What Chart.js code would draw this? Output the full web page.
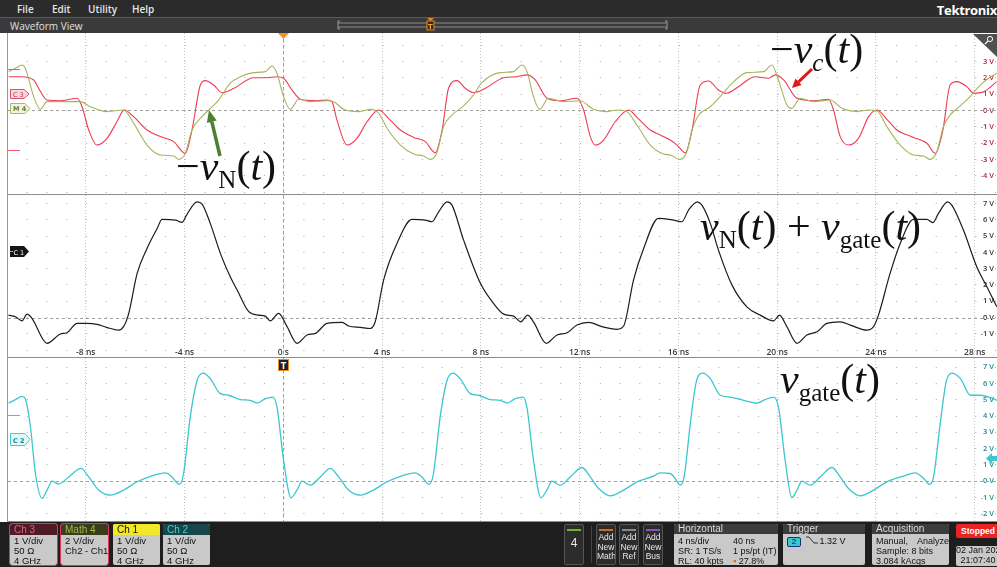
<!DOCTYPE html>
<html>
<head>
<meta charset="utf-8">
<script src="https://cdn.jsdelivr.net/npm/chart.js@4.4.1/dist/chart.umd.min.js"></script>
<style>
body{margin:0;width:997px;height:567px;overflow:hidden;background:#fff;position:relative;font-family:"Open Sans",sans-serif}
.abs{position:absolute}
#menu{left:0;top:0;width:997px;height:17px;background:#2b2b2b}
#menu span{position:absolute;top:2px;font-size:10px;font-weight:600;color:#e6e6e6}
#logo{position:absolute;right:0;top:1px;font-size:13px;font-weight:700;color:#fff;letter-spacing:-0.3px}
#wv{left:0;top:17px;width:997px;height:16px;background:#3a3a3a;border-top:1px solid #5a5a5a;box-sizing:border-box}
#wv span{position:absolute;left:10px;top:1px;font-size:10px;color:#e0e0e0}
canvas{position:absolute;left:8px}
.sep{position:absolute;left:7px;width:990px;height:1px;background:#8c8c8c}
.ann{position:absolute;font-family:"Liberation Serif",serif;font-size:42px;line-height:1;color:#111;white-space:nowrap}
.ann sub{font-size:25px;vertical-align:-8px;line-height:0}
#status{left:0;top:522px;width:997px;height:45px;background:#1e1e1e;font-family:"Liberation Sans",sans-serif}
.ch{position:absolute;top:2px;width:47px;height:41px;background:#c9c9c9;border-radius:2px;overflow:hidden;font-size:9.5px;color:#111;white-space:nowrap}
.ch .hd{height:11px;line-height:11px;padding-left:4px;font-size:10px}
.ch .bd{padding:1px 0 0 4px;line-height:10px}
.ch.sel{outline:1.5px solid #e0365a}
.btn{position:absolute;top:2px;width:20px;height:41px;background:#2c2c2c;border:1px solid #555;border-radius:2px;box-sizing:border-box;color:#e8e8e8;font-size:8.5px;line-height:9.5px;text-align:center;white-space:nowrap;overflow:hidden}
.btn i{display:block;height:2px;margin:4px 2px 2px 2px}
.panel{position:absolute;top:2px;height:41px;background:#c9c9c9;border-radius:2px;overflow:hidden;font-size:9px;color:#111;white-space:nowrap}
.panel .hd{height:10px;line-height:10px;background:#3c3c3c;color:#ddd;padding-left:4px;font-size:10px}
.panel .bd{padding:2px 0 0 4px;line-height:10px;position:relative}
</style>
</head>
<body>
<div id="menu" class="abs">
  <span style="left:17px">File</span><span style="left:52px">Edit</span><span style="left:88px">Utility</span><span style="left:132px">Help</span>
  <div id="logo">Tektronix</div>
</div>
<div id="wv" class="abs"><span>Waveform View</span></div>

<canvas id="topPanel" width="989" height="161" style="top:33px"></canvas>
<canvas id="midPanel" width="989" height="162" style="top:195px"></canvas>
<canvas id="botPanel" width="989" height="163" style="top:358px"></canvas>
<div class="sep" style="top:194px"></div>
<div class="sep" style="top:357px"></div>
<div class="sep" style="top:521px"></div>
<div class="abs" style="left:7px;top:33px;width:1px;height:489px;background:#9a9a9a"></div>

<svg class="abs" style="left:0;top:0" width="997" height="567">
  <!-- slider in waveform view bar -->
  <line x1="338" y1="23" x2="667" y2="23" stroke="#8a8a8a"/>
  <line x1="338" y1="27" x2="667" y2="27" stroke="#8a8a8a"/>
  <path d="M340 21 h-2 v8 h2 M665 21 h2 v8 h-2" stroke="#9a9a9a" fill="none"/>
  <rect x="427" y="21" width="7" height="9" fill="#2a2a2a" stroke="#f08a20"/>
  <text x="430.5" y="28.5" font-family="DejaVu Sans" font-size="7" font-weight="bold" fill="#f0a040" text-anchor="middle">T</text>
  <polygon points="427,18 434,18 430.5,21" fill="#f08a20"/>
  <!-- trigger position marker -->
  <polygon points="278,33 289,33 283.5,39" fill="#f39020"/>
  <!-- zoom icon -->
  <polygon points="973,34 997,34 997,57" fill="#505050"/>
  <circle cx="990" cy="39" r="2.6" stroke="#fff" stroke-width="1" fill="none"/>
  <line x1="988" y1="41" x2="985" y2="44" stroke="#fff" stroke-width="1.2"/>
  <!-- channel tags -->
  <line x1="8" y1="69.5" x2="20" y2="69.5" stroke="#ee5a70"/>
  <line x1="8" y1="150.5" x2="20" y2="150.5" stroke="#ee5a70"/>
  <polygon points="10.5,89.5 24,89.5 29,94 24,98.5 10.5,98.5" fill="#fcd6dd" stroke="#e0506a"/>
  <text x="13" y="96.5" font-family="DejaVu Sans" font-size="6.5" fill="#c03048">C 3</text>
  <polygon points="10.5,103.5 25,103.5 30,108.5 25,113.5 10.5,113.5" fill="#f1f3de" stroke="#a8b868"/>
  <text x="13" y="111" font-family="DejaVu Sans" font-size="6.5" font-weight="bold" fill="#6b7a30">M 4</text>
  <polygon points="10,246 24,246 29,251.5 24,257 10,257" fill="#151515"/>
  <line x1="10" y1="251.5" x2="13" y2="251.5" stroke="#e8d820" stroke-width="0.8"/>
  <text x="13.5" y="254.5" font-family="DejaVu Sans" font-size="6.5" fill="#fff">C 1</text>
  <line x1="8" y1="415.5" x2="20" y2="415.5" stroke="#3cc6cf"/>
  <polygon points="10.5,433.5 25,433.5 30,439.5 25,445.5 10.5,445.5" fill="#e0f8fa" stroke="#48c8d0"/>
  <text x="13" y="442.5" font-family="DejaVu Sans" font-size="6.5" font-weight="bold" fill="#1a8890">C 2</text>
  <!-- T marker in lower panel -->
  <rect x="278.5" y="359.5" width="10" height="11" fill="#222" stroke="#f08a20"/>
  <text x="283.5" y="368.5" font-family="DejaVu Sans" font-size="8" font-weight="bold" fill="#fff" text-anchor="middle">T</text>
  <!-- trigger level arrow -->
  <polygon points="986,458.5 992,453 992,456 997,456 997,461 992,461 992,464" fill="#3cc6cf"/>
  <!-- annotation arrows -->
  <line x1="812" y1="69" x2="798.5" y2="81.8" stroke="#e01818" stroke-width="3"/>
  <polygon points="792,88 801.6,85.1 795.4,78.5" fill="#e01818"/>
  <line x1="220" y1="156" x2="211.8" y2="121.7" stroke="#4d7f2e" stroke-width="3.5"/>
  <polygon points="209,110 216.7,120.5 206.9,122.9" fill="#4d7f2e"/>
</svg>

<div class="ann" style="left:770px;top:28px">−<i>v</i><sub><i>c</i></sub>(<i>t</i>)</div>
<div class="ann" style="left:176px;top:145px">−<i>v</i><sub>N</sub>(<i>t</i>)</div>
<div class="ann" style="left:700px;top:205px"><i>v</i><sub>N</sub>(<i>t</i>) + <i>v</i><sub>gate</sub>(<i>t</i>)</div>
<div class="ann" style="left:780px;top:358px"><i>v</i><sub>gate</sub>(<i>t</i>)</div>

<div id="status" class="abs">
  <div class="ch sel" style="left:10px"><div class="hd" style="background:#4d1b26;color:#e8607a">Ch 3</div><div class="bd">1 V/div<br>50 Ω<br>4 GHz</div></div>
  <div class="ch sel" style="left:61px"><div class="hd" style="background:#3b3d1a;color:#a8b850">Math 4</div><div class="bd">2 V/div<br>Ch2 - Ch1</div></div>
  <div class="ch" style="left:113px"><div class="hd" style="background:#f2e82a;color:#111">Ch 1</div><div class="bd">1 V/div<br>50 Ω<br>4 GHz</div></div>
  <div class="ch" style="left:163px"><div class="hd" style="background:#17474a;color:#48ccd0">Ch 2</div><div class="bd">1 V/div<br>50 Ω<br>4 GHz</div></div>

  <div class="btn" style="left:564px"><i style="background:#7ab030"></i><div style="font-size:12px;margin-top:8px">4</div></div>
  <div class="abs" style="left:591px;top:4px;width:1px;height:37px;background:#444"></div>
  <div class="btn" style="left:596px"><i style="background:#c87028"></i>Add<br>New<br>Math</div>
  <div class="btn" style="left:619px"><i style="background:#8a8a8a"></i>Add<br>New<br>Ref</div>
  <div class="btn" style="left:643px"><i style="background:#8c50c0"></i>Add<br>New<br>Bus</div>

  <div class="panel" style="left:674px;width:104px"><div class="hd">Horizontal</div>
    <div class="bd">4 ns/div<br>SR: 1 TS/s<br>RL: 40 kpts
      <div class="abs" style="left:59px;top:2px">40 ns<br>1 ps/pt (IT)<br><span style="color:#d07010">▪</span> 27.8%</div>
    </div></div>
  <div class="panel" style="left:783px;width:82px"><div class="hd">Trigger</div>
    <div class="bd"><span style="display:inline-block;background:#3cc6cf;border:1px solid #137;border-radius:2px;width:12px;height:8px;line-height:8px;text-align:center;font-size:8px">2</span>
      <svg width="12" height="9" style="vertical-align:-1px;margin:0 2px"><path d="M0 1 H3 L8 7 H12" stroke="#333" fill="none"/></svg>1.32 V</div></div>
  <div class="panel" style="left:872px;width:77px"><div class="hd">Acquisition</div>
    <div class="bd">Manual,<span class="abs" style="left:45px;top:2px">Analyze</span><br>Sample: 8 bits<br>3.084 kAcqs</div></div>
  <div class="abs" style="left:956px;top:2px;width:44px;height:14px;background:#e82424;border-radius:2px;color:#fff;font-size:8.5px;font-weight:700;text-align:center;line-height:14px">Stopped</div>
  <div class="abs" style="left:956px;top:24px;width:44px;height:20px;background:#c9c9c9;border-radius:2px;color:#111;font-size:9px;line-height:9.5px;text-align:center;white-space:nowrap;overflow:hidden">02 Jan 2020<br>21:07:40</div>
</div>

<script>
// time axis (ns)
const T_MIN = -11.15, T_MAX = 28.9;
const timeTicks = [-8, -4, 0, 4, 8, 12, 16, 20, 24, 28];
const timeTickLabels = ['-8 ns', '-4 ns', '0 s', '4 ns', '8 ns', '12 ns', '16 ns', '20 ns', '24 ns', '28 ns'];

// volt labels shown on each panel
const topVoltLabels = [3, 2, 1, 0, -1, -2, -3, -4];
const midVoltLabels = [7, 6, 5, 4, 3, 2, 1, 0, -1];
const botVoltLabels = [7, 6, 5, 4, 3, 2, 1, 0, -1, -2];

// Ch 3  (-vc)
const c3Time = [-11.12, -10.63, -10.11, -9.91, -9.57, -9.03, -8.35, -8.15, -7.88, -7.55, -7.14, -6.74, -6.44, -6.06, -5.52, -4.98, -4.44, -3.97, -3.7, -3.36, -3.16, -2.82, -2.48, -2.0, -1.2, -0.66, -0.26, 0.01, 0.35, 0.69, 1.36, 1.77, 1.97, 2.17, 2.58, 2.98, 3.39, 3.86, 4.26, 4.74, 5.28, 5.75, 6.15, 6.43, 6.69, 7.03, 7.37, 7.7, 8.18, 8.92, 9.46, 9.87, 10.2, 10.68, 11.21, 11.89, 12.16, 12.43, 12.63, 12.97, 13.44, 13.98, 14.32, 14.86, 15.26, 15.67, 15.94, 16.28, 16.55, 16.88, 17.22, 17.62, 17.96, 18.43, 19.11, 19.65, 19.92, 20.26, 20.8, 21.47, 22.08, 22.28, 22.55, 22.89, 23.29, 23.7, 24.04, 24.44, 24.85, 25.52, 26.06, 26.4, 26.71, 27.0, 27.27, 27.68, 27.95, 28.36, 28.89];
const c3Volt = [2.07, 2.07, 1.87, 1.36, 0.64, 0.6, 0.75, 0.23, -1.2, -2.12, -1.71, -0.69, 0.03, -0.38, -1.2, -1.6, -1.91, -2.63, -1.2, 1.56, 1.83, 1.56, 1.09, 1.36, 2.01, 2.01, 2.07, 1.98, 1.26, 0.69, 0.6, 0.64, 0.54, -0.58, -2.12, -1.71, -0.69, 0.03, -0.48, -1.2, -1.65, -1.91, -2.59, -1.2, 1.36, 1.83, 1.36, 1.09, 1.36, 2.01, 2.07, 2.18, 1.87, 0.75, 0.6, 0.75, 0.03, -1.6, -2.12, -1.81, -0.69, 0.03, -0.42, -1.2, -1.5, -1.81, -2.12, -2.59, -1.2, 1.56, 1.81, 1.26, 1.06, 1.46, 2.07, 1.98, 2.18, 1.87, 0.75, 0.6, 0.69, 0.03, -1.6, -2.12, -1.71, -0.38, 0.03, -0.54, -1.2, -1.65, -2.01, -2.63, -1.2, 1.56, 1.77, 1.46, 1.06, 1.15, 1.77];

// Math 4  (-vN), in screen volts
const m4Time = [-11.12, -10.85, -10.58, -10.45, -10.11, -9.84, -9.57, -9.03, -8.22, -7.81, -7.14, -6.47, -6.06, -5.52, -4.98, -4.44, -4.24, -3.97, -3.7, -3.36, -3.02, -2.62, -2.15, -1.74, -1.2, -0.73, -0.46, -0.26, 0.01, 0.28, 0.62, 1.09, 1.77, 2.04, 2.44, 3.05, 3.52, 3.86, 4.2, 4.74, 5.28, 5.68, 5.95, 6.22, 6.49, 6.83, 7.3, 7.7, 8.04, 8.79, 9.32, 9.66, 9.87, 10.13, 10.38, 10.74, 11.35, 12.02, 12.56, 13.1, 13.57, 13.91, 14.32, 14.86, 15.4, 15.67, 16.07, 16.34, 16.55, 16.82, 17.29, 17.69, 18.1, 18.77, 19.45, 19.78, 20.05, 20.39, 20.59, 20.93, 21.47, 22.15, 22.62, 23.23, 23.7, 24.04, 24.44, 24.98, 25.52, 25.93, 26.19, 26.46, 26.73, 27.0, 27.41, 27.81, 28.22, 28.56, 28.89];
const m4Volt = [2.38, 2.59, 2.79, 2.59, 0.85, 0.07, 0.54, 0.54, 0.54, 0.23, -0.07, 0.03, -0.79, -2.12, -2.73, -2.79, -3.0, -2.63, -1.2, -0.48, 0.03, 0.64, 1.67, 2.07, 2.32, 2.38, 2.73, 2.28, 0.85, 0.07, 0.69, 0.54, 0.6, 0.54, 0.07, -0.07, 0.07, -0.17, -1.09, -2.12, -2.67, -2.79, -3.0, -2.59, -0.99, -0.28, 0.28, 0.95, 1.71, 2.32, 2.38, 2.79, 2.38, 0.85, 0.07, 0.75, 0.54, 0.6, 0.07, -0.07, 0.03, -0.07, -0.89, -2.12, -2.67, -2.73, -3.0, -2.53, -1.2, -0.28, 0.23, 0.85, 1.56, 2.32, 2.38, 2.79, 1.87, 0.34, 0.13, 0.75, 0.54, 0.64, 0.13, -0.07, 0.03, -0.03, -0.99, -2.12, -2.73, -2.79, -3.0, -2.53, -0.99, -0.28, 0.28, 0.85, 1.56, 1.98, 2.28];

// Ch 1  (vN + vgate)
const c1Time = [-11.13, -10.85, -10.58, -10.38, -10.18, -9.57, -9.03, -8.76, -8.35, -7.95, -7.55, -7.16, -6.67, -6.47, -6.26, -5.92, -5.52, -5.11, -4.91, -4.37, -4.1, -3.92, -3.49, -3.29, -2.96, -2.55, -2.15, -1.87, -1.4, -1.0, -0.73, -0.53, -0.19, 0.15, 0.55, 0.96, 1.3, 1.77, 2.38, 2.64, 3.12, 3.52, 3.72, 4.06, 4.6, 5.21, 5.75, 6.02, 6.29, 6.63, 6.83, 7.3, 7.98, 8.51, 8.92, 9.32, 9.62, 9.89, 10.13, 10.65, 11.08, 11.49, 11.89, 12.36, 12.9, 13.51, 13.78, 14.18, 14.59, 15.19, 15.8, 16.14, 16.41, 16.77, 16.95, 17.29, 17.62, 18.17, 18.77, 19.31, 19.85, 20.09, 20.39, 20.8, 21.2, 21.61, 22.01, 22.55, 22.96, 23.63, 23.9, 24.1, 24.57, 24.98, 25.52, 26.06, 26.3, 26.53, 26.9, 27.07, 27.54, 28.08, 28.49, 28.89];
const c1Volt = [0.15, 0.05, -0.2, 0.21, -0.05, -1.58, -1.01, -0.93, -0.36, -0.36, -0.42, -0.6, -0.77, -0.56, 0.26, 2.71, 4.24, 5.47, 6.02, 5.98, 5.84, 6.29, 7.1, 6.96, 5.78, 3.94, 2.5, 1.69, 0.36, 0.15, 0.09, -0.2, 0.26, -0.56, -1.58, -1.07, -0.97, -0.36, -0.3, -0.52, -0.6, -0.67, -0.26, 2.3, 4.55, 6.02, 5.98, 5.88, 6.49, 7.1, 6.9, 4.75, 2.1, 0.87, 0.21, 0.09, -0.26, 0.15, -0.26, -1.58, -1.07, -0.93, -0.46, -0.29, -0.56, -0.72, -0.52, 2.3, 4.24, 6.09, 5.98, 5.88, 6.6, 7.1, 6.9, 5.78, 4.14, 1.99, 0.66, 0.15, -0.2, 0.15, -0.56, -1.58, -1.07, -0.87, -0.36, -0.26, -0.46, -0.77, -0.56, 0.15, 2.71, 4.55, 6.02, 6.02, 5.82, 6.39, 7.1, 6.9, 5.37, 3.12, 1.89, 0.66];

// Ch 2  (vgate)
const c2Time = [-11.12, -10.85, -10.58, -10.45, -10.24, -10.04, -9.77, -9.57, -9.36, -9.1, -8.69, -8.19, -7.88, -7.48, -7.0, -6.47, -5.92, -5.32, -4.78, -4.51, -4.21, -4.04, -3.77, -3.49, -3.25, -2.96, -2.55, -2.21, -1.74, -1.34, -1.06, -0.73, -0.42, -0.26, 0.01, 0.31, 0.55, 0.76, 1.09, 1.5, 1.9, 2.24, 2.64, 3.12, 3.65, 4.2, 4.8, 5.34, 5.61, 5.91, 6.08, 6.35, 6.63, 6.87, 7.16, 7.57, 7.91, 8.38, 8.78, 9.06, 9.39, 9.7, 9.86, 10.13, 10.43, 10.67, 10.88, 11.21, 11.62, 12.1, 12.43, 12.77, 13.24, 13.78, 14.32, 14.99, 15.26, 15.67, 15.87, 16.07, 16.23, 16.48, 16.72, 16.99, 17.29, 17.69, 18.1, 18.64, 19.18, 19.51, 19.85, 20.05, 20.32, 20.59, 20.8, 21.0, 21.34, 21.74, 22.22, 22.55, 22.89, 23.36, 23.9, 24.44, 25.11, 25.59, 25.93, 26.17, 26.33, 26.6, 26.84, 27.07, 27.42, 27.83, 28.24, 28.57, 28.89];
const c2Volt = [4.8, 5.01, 5.21, 5.07, 3.33, 0.47, -1.06, -0.55, 0, -0.18, 0.26, 0.78, 0.26, -0.55, -0.86, -0.55, -0.04, 0.33, 0.51, 0.26, -0.2, 0.47, 3.94, 6.2, 6.64, 6.3, 5.38, 5.28, 5.01, 4.97, 4.8, 5.07, 5.17, 4.56, 1.29, -1.02, -0.55, 0, -0.25, 0.26, 0.78, 0.26, -0.55, -0.86, -0.55, -0.04, 0.33, 0.51, 0.26, -0.2, 0.47, 3.94, 6.2, 6.64, 6.3, 5.38, 5.28, 5.01, 4.97, 4.8, 5.07, 5.17, 4.56, 1.29, -1.02, -0.55, 0, -0.25, 0.26, 0.84, 0.26, -0.45, -0.9, -0.55, -0.04, 0.31, 0.51, 0.47, 0.16, -0.25, 0.26, 3.54, 6.09, 6.64, 6.3, 5.28, 5.17, 4.97, 4.8, 5.01, 5.17, 4.56, 1.29, -1.02, -0.55, 0, -0.25, 0.26, 0.84, 0.26, -0.45, -0.9, -0.55, -0.04, 0.31, 0.51, 0.16, -0.2, 0.26, 3.54, 6.09, 6.64, 6.3, 5.28, 5.28, 5.17, 4.97];

const pts = (ts, vs) => ts.map((t, i) => ({ x: t, y: vs[i] }));

// dashed ground line and trigger-time line
const refLines = {
    id: 'refLines',
    beforeDatasetsDraw(chart) {
        const { ctx, chartArea: a, scales: { x, y } } = chart;
        ctx.save();
        ctx.strokeStyle = '#a0a0a0';
        ctx.lineWidth = 1;
        ctx.setLineDash([3, 3]);
        const y0 = Math.round(y.getPixelForValue(0)) + 0.5;
        ctx.beginPath(); ctx.moveTo(a.left, y0); ctx.lineTo(a.right, y0); ctx.stroke();
        const x0 = Math.round(x.getPixelForValue(0)) + 0.5;
        ctx.beginPath(); ctx.moveTo(x0, a.top); ctx.lineTo(x0, a.bottom); ctx.stroke();
        ctx.restore();
    }
};

const noPad = s => { s.paddingTop = 0; s.paddingBottom = 0; s.paddingLeft = 0; s.paddingRight = 0; };

function makePanel(id, yMin, yMax, labelColor, shownVolts, datasets, showTime) {
    return new Chart(document.getElementById(id), {
        type: 'line',
        data: { datasets },
        options: {
            responsive: false,
            animation: false,
            layout: { padding: 0 },
            plugins: { legend: { display: false }, tooltip: { enabled: false } },
            elements: { point: { radius: 0 }, line: { cubicInterpolationMode: 'monotone' } },
            scales: {
                x: {
                    type: 'linear', min: T_MIN, max: T_MAX,
                    border: { display: false, dash: [1, 2] },
                    grid: { color: '#c4c4c4', drawTicks: false },
                    ticks: {
                        // mirror puts the labels inside the plot, just above the panel edge
                        display: showTime, mirror: true, stepSize: 4, includeBounds: false, autoSkip: false, maxRotation: 0,
                        padding: -1, color: '#3a3a3a', font: { family: 'Open Sans', size: 8.5, weight: '600' },
                        callback: v => { const i = timeTicks.indexOf(v); return i < 0 ? '' : timeTickLabels[i]; }
                    },
                    afterFit: s => { s.height = 0; noPad(s); }
                },
                y: {
                    position: 'right', min: yMin, max: yMax,
                    border: { display: false, dash: [1, 18.76], dashOffset: 1 },
                    grid: { color: '#a8a8a8', drawTicks: false },
                    ticks: {
                        stepSize: 1, includeBounds: false, mirror: true, padding: -3,
                        color: labelColor, font: { family: 'Open Sans', size: 7.5, weight: '600' },
                        callback: v => shownVolts.includes(v) ? v + ' V' : ''
                    },
                    afterFit: s => { s.width = 0; noPad(s); }
                }
            }
        },
        plugins: [refLines]
    });
}

makePanel('topPanel', -5.12, 4.75, '#a8283a', topVoltLabels, [
    { data: pts(m4Time, m4Volt), borderColor: '#a6b55c', borderWidth: 1.1 },
    { data: pts(c3Time, c3Volt), borderColor: '#ee3a52', borderWidth: 1.1 }
], false);

makePanel('midPanel', -2.42, 7.52, '#333333', midVoltLabels, [
    { data: pts(c1Time, c1Volt), borderColor: '#1c1c1c', borderWidth: 1.2 }
], true);

makePanel('botPanel', -2.45, 7.57, '#238a8e', botVoltLabels, [
    { data: pts(c2Time, c2Volt), borderColor: '#3cc6cf', borderWidth: 1.3 }
], false);
</script>
</body>
</html>
